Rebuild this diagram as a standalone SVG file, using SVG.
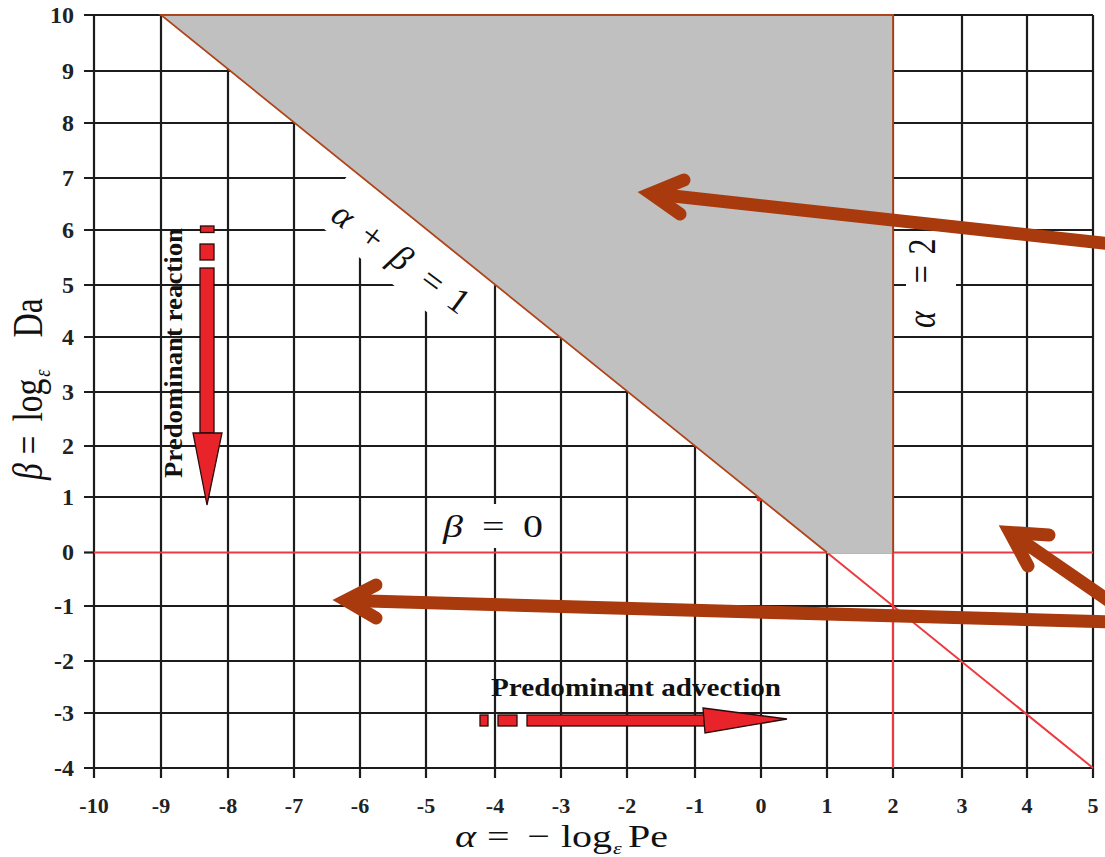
<svg xmlns="http://www.w3.org/2000/svg" width="1105" height="857" viewBox="0 0 1105 857">
  <style>
    .grid line { stroke: #1c1c1c; stroke-width: 2.2; }
    .red { stroke: #ec3b40; stroke-width: 2; fill: none; }
    .ytick { font-family: "Liberation Serif", serif; font-weight: bold; font-size: 24px; fill: #222; text-anchor: end; }
    .xtick { font-family: "Liberation Serif", serif; font-weight: bold; font-size: 22px; fill: #222; text-anchor: middle; }
    .math { font-family: "Liberation Serif", "DejaVu Serif", serif; fill: #111; }
    .it { font-style: italic; }
    .bold { font-family: "Liberation Serif", serif; font-weight: bold; fill: #111; }
    .redshape { fill: #e8232a; stroke: #2a0a0a; stroke-width: 1.3; }
    .brown { stroke: #a83a0d; stroke-width: 13; fill: none; stroke-linecap: round; }
    .brownhead { stroke: #a83a0d; stroke-width: 13; fill: none; stroke-linecap: round; stroke-linejoin: miter; stroke-miterlimit: 10; }
    .mask { fill: #ffffff; }
  </style>
  <rect width="1105" height="857" fill="#ffffff"/>

  <g id="grid" class="grid">
    <line x1="84" y1="15" x2="1093" y2="15"/>
    <line x1="84" y1="71" x2="1093" y2="71"/>
    <line x1="84" y1="123" x2="1093" y2="123"/>
    <line x1="84" y1="178" x2="1093" y2="178"/>
    <line x1="84" y1="230" x2="1093" y2="230"/>
    <line x1="84" y1="285" x2="1093" y2="285"/>
    <line x1="84" y1="337" x2="1093" y2="337"/>
    <line x1="84" y1="392" x2="1093" y2="392"/>
    <line x1="84" y1="446" x2="1093" y2="446"/>
    <line x1="84" y1="497" x2="1093" y2="497"/>
    <line x1="84" y1="552.5" x2="94" y2="552.5"/>
    <line x1="84" y1="606" x2="1093" y2="606"/>
    <line x1="84" y1="661" x2="1093" y2="661"/>
    <line x1="84" y1="713" x2="1093" y2="713"/>
    <line x1="84" y1="768" x2="1093" y2="768"/>
    <line x1="94" y1="15" x2="94" y2="778"/>
    <line x1="161" y1="15" x2="161" y2="778"/>
    <line x1="228" y1="15" x2="228" y2="778"/>
    <line x1="294" y1="15" x2="294" y2="778"/>
    <line x1="360" y1="15" x2="360" y2="778"/>
    <line x1="426" y1="15" x2="426" y2="778"/>
    <line x1="495" y1="15" x2="495" y2="778"/>
    <line x1="561" y1="15" x2="561" y2="778"/>
    <line x1="627" y1="15" x2="627" y2="778"/>
    <line x1="695" y1="15" x2="695" y2="778"/>
    <line x1="761" y1="15" x2="761" y2="778"/>
    <line x1="827" y1="15" x2="827" y2="778"/>
    <line x1="893" y1="15" x2="893" y2="778"/>
    <line x1="962" y1="15" x2="962" y2="778"/>
    <line x1="1027" y1="15" x2="1027" y2="778"/>
    <line x1="1093" y1="15" x2="1093" y2="778"/>
  </g>

  <g id="label-masks">
    <rect class="mask" x="440" y="504" width="110" height="44"/>
    <rect class="mask" x="906" y="234" width="50" height="100"/>
    <rect class="mask" transform="translate(400,262) rotate(38.9)" x="-95" y="-45" width="183" height="67"/>
  </g>

  <g id="red-lines">
    <line class="red" x1="94" y1="552.5" x2="1093" y2="552.5"/>
    <line class="red" x1="893" y1="553" x2="893" y2="768"/>
    <line class="red" x1="827" y1="552.5" x2="1093" y2="768"/>
    <circle cx="759" cy="499" r="2.5" fill="#ec3b40"/>
  </g>

  <g id="region-shaded">
    <polygon points="161,15 893,15 893,553 827,553" fill="#c0c0c0"/>
    <polyline points="827,552.5 161,15 893,15 893,553" fill="none" stroke="#b0441a" stroke-width="1.8"/>
  </g>

  <g id="y-ticks">
    <text class="ytick" x="74" y="23">10</text>
    <text class="ytick" x="74" y="79">9</text>
    <text class="ytick" x="74" y="131">8</text>
    <text class="ytick" x="74" y="186">7</text>
    <text class="ytick" x="74" y="238">6</text>
    <text class="ytick" x="74" y="293">5</text>
    <text class="ytick" x="74" y="345">4</text>
    <text class="ytick" x="74" y="400">3</text>
    <text class="ytick" x="74" y="454">2</text>
    <text class="ytick" x="74" y="505">1</text>
    <text class="ytick" x="74" y="560">0</text>
    <text class="ytick" x="74" y="614">-1</text>
    <text class="ytick" x="74" y="669">-2</text>
    <text class="ytick" x="74" y="721">-3</text>
    <text class="ytick" x="74" y="776">-4</text>
  </g>

  <g id="x-ticks">
    <text class="xtick" x="94" y="813">-10</text>
    <text class="xtick" x="161" y="813">-9</text>
    <text class="xtick" x="228" y="813">-8</text>
    <text class="xtick" x="294" y="813">-7</text>
    <text class="xtick" x="360" y="813">-6</text>
    <text class="xtick" x="426" y="813">-5</text>
    <text class="xtick" x="495" y="813">-4</text>
    <text class="xtick" x="561" y="813">-3</text>
    <text class="xtick" x="627" y="813">-2</text>
    <text class="xtick" x="695" y="813">-1</text>
    <text class="xtick" x="761" y="813">0</text>
    <text class="xtick" x="827" y="813">1</text>
    <text class="xtick" x="893" y="813">2</text>
    <text class="xtick" x="962" y="813">3</text>
    <text class="xtick" x="1027" y="813">4</text>
    <text class="xtick" x="1093" y="813">5</text>
  </g>

  <g id="axis-labels">
    <text class="math" transform="translate(455,847) scale(1,0.8)" font-size="40"><tspan class="it" x="0" y="0">α</tspan><tspan x="32" y="0">=</tspan><tspan x="72" y="0">−</tspan><tspan x="106" y="0">log</tspan><tspan class="it" x="158" y="9" font-size="22">ε</tspan><tspan x="173" y="0">Pe</tspan></text>
    <text class="math" transform="translate(42,480) rotate(-90) scale(0.8,1)" font-size="42"><tspan class="it" x="0" y="0">β</tspan><tspan x="32" y="0">=</tspan><tspan x="73" y="0">log</tspan><tspan class="it" x="129" y="8" font-size="23">ε</tspan><tspan x="178" y="0">Da</tspan></text>
  </g>

  <g id="label-alpha-beta-1">
    <text class="math" transform="translate(343,217) rotate(36.5)" font-size="36"><tspan class="it" x="-10" y="10">α</tspan><tspan x="25" y="10">+</tspan><tspan class="it" x="62" y="10">β</tspan><tspan x="100" y="10">=</tspan><tspan x="134" y="10">1</tspan></text>
  </g>
  <g id="label-beta-0">
    <text class="math" transform="translate(443,537) scale(1,0.8)" font-size="40"><tspan class="it" x="0" y="0">β</tspan><tspan x="39" y="0">=</tspan><tspan x="80" y="0">0</tspan></text>
  </g>
  <g id="label-alpha-2">
    <text class="math" transform="translate(935,328) rotate(-90) scale(0.8,1)" font-size="40"><tspan class="it" x="0" y="0">α</tspan><tspan x="56" y="0">=</tspan><tspan x="92" y="0">2</tspan></text>
  </g>

  <g id="reaction-arrow">
    <rect class="redshape" x="200.5" y="226" width="13.5" height="6.5"/>
    <rect class="redshape" x="200" y="244" width="14" height="16"/>
    <rect class="redshape" x="200" y="268" width="14" height="165"/>
    <polygon class="redshape" points="193,433 222,433 207,505"/>
    <text class="bold" transform="translate(182,478) rotate(-90)" x="0" y="0" font-size="25" textLength="250" lengthAdjust="spacingAndGlyphs">Predominant reaction</text>
  </g>

  <g id="advection-arrow">
    <rect class="redshape" x="480" y="715" width="8" height="11"/>
    <rect class="redshape" x="498" y="715" width="19" height="11"/>
    <rect class="redshape" x="527" y="715" width="178" height="11"/>
    <polygon class="redshape" points="703,708 787,719 705,733"/>
    <text class="bold" x="491" y="696" font-size="25" textLength="290" lengthAdjust="spacingAndGlyphs">Predominant advection</text>
  </g>

  <g id="connectors">
    <line class="brown" x1="1112" y1="244" x2="655" y2="194"/>
    <polyline class="brownhead" points="684,180 651,193.5 680,214"/>
    <line class="brown" x1="1112" y1="603" x2="1015" y2="536"/>
    <polyline class="brownhead" points="1049,535 1010,532.5 1028,566"/>
    <line class="brown" x1="1112" y1="622" x2="350" y2="600.5"/>
    <polyline class="brownhead" points="376,585 346,600.4 376,618"/>
  </g>
</svg>
